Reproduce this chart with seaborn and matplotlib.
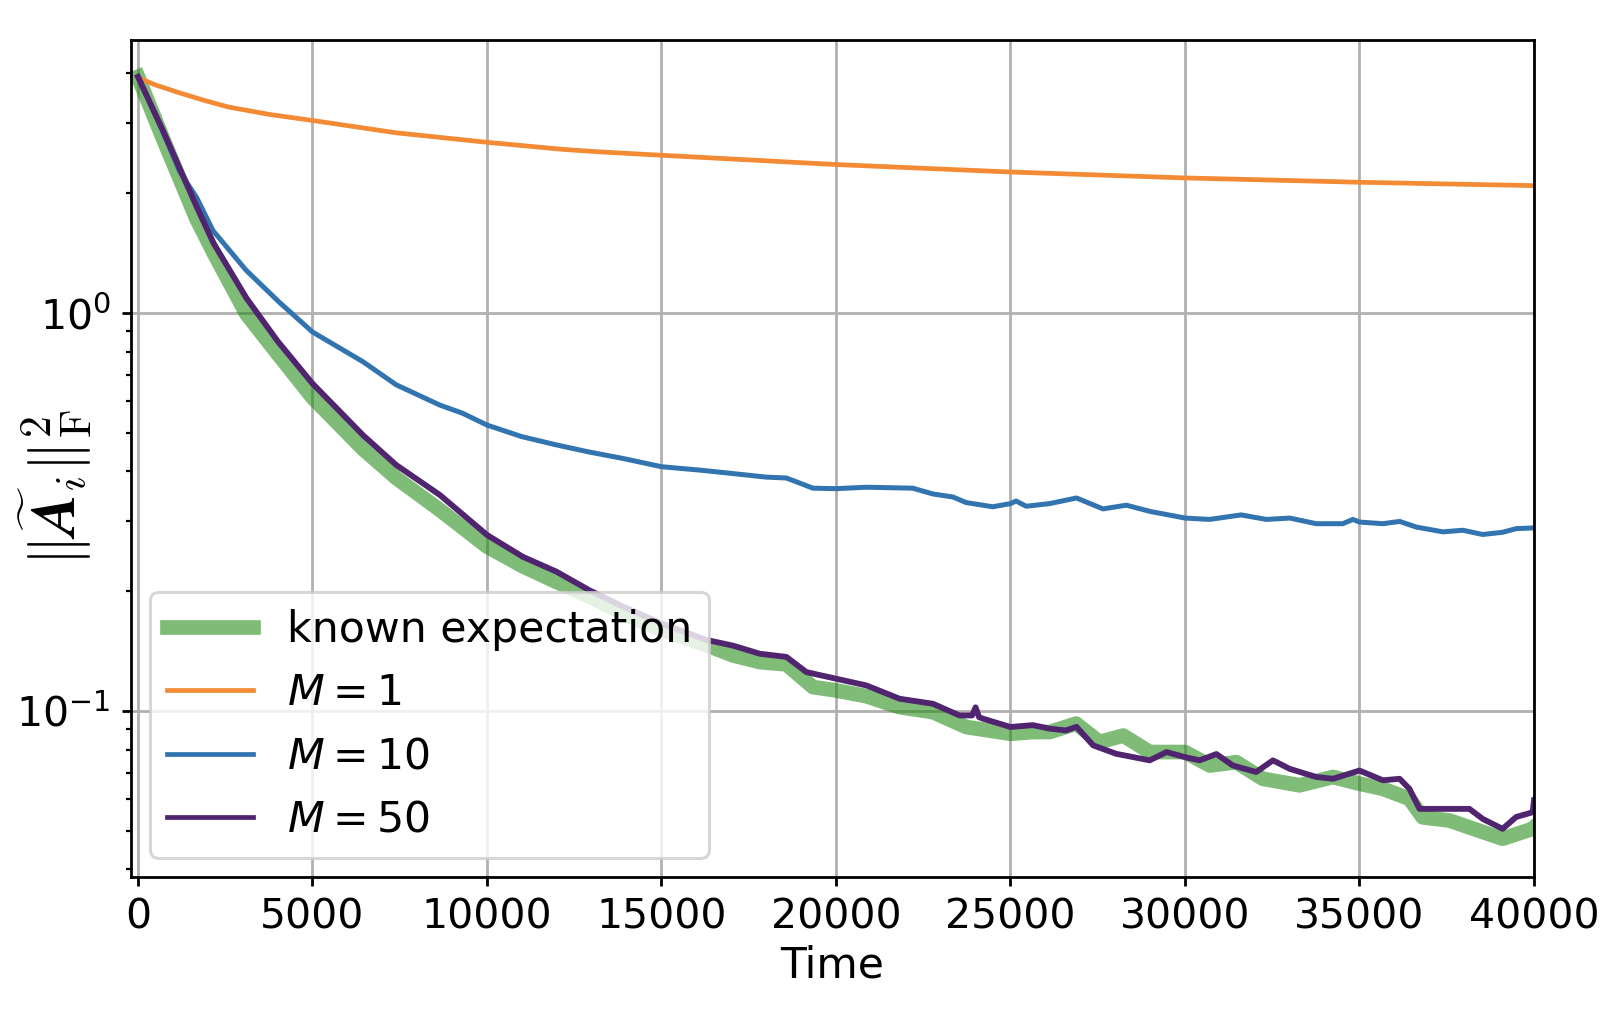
import matplotlib
matplotlib.use("Agg")
import matplotlib.pyplot as plt
import seaborn as sns
import pandas as pd

# ---------------- data ----------------
t_m1 = [0, 500, 1200, 1900, 2600, 3800, 5000, 7400, 10000, 12200, 13200, 15000, 20000, 25000,
        30000, 35000, 40000]
v_m1 = [3.90, 3.74, 3.57, 3.42, 3.29, 3.15, 3.045, 2.835, 2.684, 2.575, 2.54, 2.49, 2.36, 2.26,
        2.184, 2.13, 2.089]

t_m10 = [0, 700, 1200, 1680, 2150, 3100, 4050, 5000, 6450, 7400, 8650, 9300, 10000, 11000,
         12000, 12900, 13900, 15000, 16100, 17050, 18000, 18580, 19340, 20000, 20870, 22200,
         22780, 23350, 23730, 24490, 25000, 25160, 25450, 26120, 26890, 27650, 28320, 28990,
         30000, 30700, 31610, 32330, 33000, 33760, 34520, 34810, 35000, 35670, 36150, 36620,
         37390, 37960, 38530, 39100, 39490, 40000]
v_m10 = [3.92, 2.87, 2.26, 1.95, 1.61, 1.28, 1.064, 0.896, 0.754, 0.66, 0.587, 0.560, 0.523, 0.489,
         0.466, 0.448, 0.431, 0.411, 0.403, 0.395, 0.387, 0.385, 0.363, 0.362, 0.365, 0.363,
         0.351, 0.345, 0.334, 0.326, 0.332, 0.337, 0.327, 0.332, 0.343, 0.322, 0.329, 0.3175,
         0.3054, 0.303, 0.311, 0.303, 0.3054, 0.2956, 0.2956, 0.303, 0.2984, 0.2956, 0.2995, 0.290,
         0.282, 0.2846, 0.2777, 0.2813, 0.2873, 0.2885]

t_m50 = [0, 725, 1680, 2160, 3110, 4000, 5000, 6450, 7400, 8650, 10000, 11030, 11990, 12940,
         13900, 15000, 16280, 17050, 17820, 18580, 19150, 20000, 20870, 21820, 22780, 23540,
         23900, 24000, 24100, 24210, 25000, 25640, 26130, 26590, 26890, 27370, 28030, 28990,
         29470, 30000, 30420, 30900, 31370, 32040, 32520, 33000, 33760, 34240, 35000, 35670,
         36150, 36430, 36720, 37580, 38150, 38530, 39100, 39490, 39960, 40000]
v_m50 = [3.92, 2.86, 1.85, 1.50, 1.089, 0.85, 0.665, 0.493, 0.415, 0.349, 0.277, 0.244, 0.224, 0.201,
         0.183, 0.166, 0.151, 0.146, 0.1393, 0.1368, 0.1253, 0.1206, 0.116, 0.1074, 0.1043, 0.0975,
         0.0975, 0.1022, 0.0965, 0.0957, 0.0912, 0.0922, 0.0903, 0.0894, 0.0913, 0.082, 0.0781, 0.0752,
         0.0789, 0.0766, 0.0752, 0.078, 0.0730, 0.0703, 0.0752, 0.0716, 0.0683, 0.0676, 0.0709, 0.0670,
         0.0676, 0.0638, 0.0568, 0.0568, 0.0568, 0.0536, 0.0506, 0.0542, 0.0557, 0.0597]

t_exp = [0, 725, 1680, 2160, 3110, 4000, 5000, 6450, 7400, 8650, 10000, 11030, 11990, 12940,
         13900, 15000, 16280, 17050, 17820, 18580, 19340, 20000, 20870, 21820, 22780, 23730,
         25000, 25640, 26130, 26880, 27550, 28230, 28990, 30000, 30710, 31470, 32230, 33280,
         34240, 35000, 35670, 36430, 36810, 37580, 38530, 39100, 39960, 40000]
v_exp = [3.92, 2.73, 1.72, 1.42, 0.993, 0.79, 0.613, 0.455, 0.385, 0.320, 0.259, 0.231, 0.211, 0.194,
         0.176, 0.160, 0.1466, 0.138, 0.1328, 0.131, 0.1149, 0.1127, 0.109, 0.1023, 0.0994, 0.0912,
         0.0877, 0.0886, 0.0886, 0.093, 0.0836, 0.0868, 0.0789, 0.0789, 0.073, 0.0744, 0.0676, 0.0651,
         0.0683, 0.0657, 0.0638, 0.0602, 0.0541, 0.0531, 0.0497, 0.0478, 0.0506, 0.0510]

labels = ["known expectation", r"$M=1$", r"$M=10$", r"$M=50$"]
colors = ["#1f8a10", "#F28B33", "#3274AF", "#512470"]
x_ticks = [0, 5000, 10000, 15000, 20000, 25000, 30000, 35000, 40000]

# ---------------- style ----------------
FS = 29.5
plt.rcParams.update({
    "font.size": FS,
    "axes.linewidth": 2.0,
    "xtick.major.width": 2.0, "ytick.major.width": 2.0,
    "xtick.minor.width": 1.6, "ytick.minor.width": 1.6,
    "xtick.major.size": 6.7, "ytick.major.size": 6.7,
    "xtick.minor.size": 3.8, "ytick.minor.size": 3.8,
    "xtick.major.pad": 8, "ytick.major.pad": 8,
    "grid.linewidth": 2.0, "grid.color": "#b0b0b0",
    "patch.linewidth": 2.2,
    "legend.fontsize": 30.7,
})

W, H = 1612, 1014
fig = plt.figure(figsize=(W / 100, H / 100), dpi=100)
ax = fig.add_axes([131 / W, 1 - 877 / H, (1534 - 131) / W, (877 - 40) / H])

df_exp = pd.DataFrame({"t": t_exp, "v": v_exp})
df_m1 = pd.DataFrame({"t": t_m1, "v": v_m1})
df_m10 = pd.DataFrame({"t": t_m10, "v": v_m10})
df_m50 = pd.DataFrame({"t": t_m50, "v": v_m50})

sns.lineplot(data=df_exp, x="t", y="v", ax=ax, color=colors[0], alpha=0.57,
             linewidth=10.6, label=labels[0], estimator=None, sort=False)
sns.lineplot(data=df_m1, x="t", y="v", ax=ax, color=colors[1],
             linewidth=3.4, label=labels[1], estimator=None, sort=False)
sns.lineplot(data=df_m10, x="t", y="v", ax=ax, color=colors[2],
             linewidth=3.6, label=labels[2], estimator=None, sort=False)
sns.lineplot(data=df_m50, x="t", y="v", ax=ax, color=colors[3],
             linewidth=4.2, label=labels[3], estimator=None, sort=False)

ax.set_yscale("log")
ax.set_xlim(-200, 40000)
ax.set_ylim(0.0383, 4.85)
ax.set_xticks(x_ticks)
ax.grid(True, which="major")
for gl in ax.get_xgridlines() + ax.get_ygridlines():
    gl.set_zorder(1.5)

ax.set_xlabel("Time", fontsize=30.5, labelpad=5)
ax.set_ylabel("")
fig.text(56 / W, 1 - 487 / H, r"$\|\widetilde{\boldsymbol{A}}_i\|_{\mathrm{F}}^2$",
         fontsize=45, math_fontfamily="cm", rotation=90, ha="center", va="center")

leg = ax.legend(loc="lower left", framealpha=0.8, borderaxespad=0.45)
for lh, lw in zip(leg.get_lines(), [10.6, 3.4, 3.4, 3.4]):
    lh.set_linewidth(lw)

fig.savefig("out.png", dpi=100)
